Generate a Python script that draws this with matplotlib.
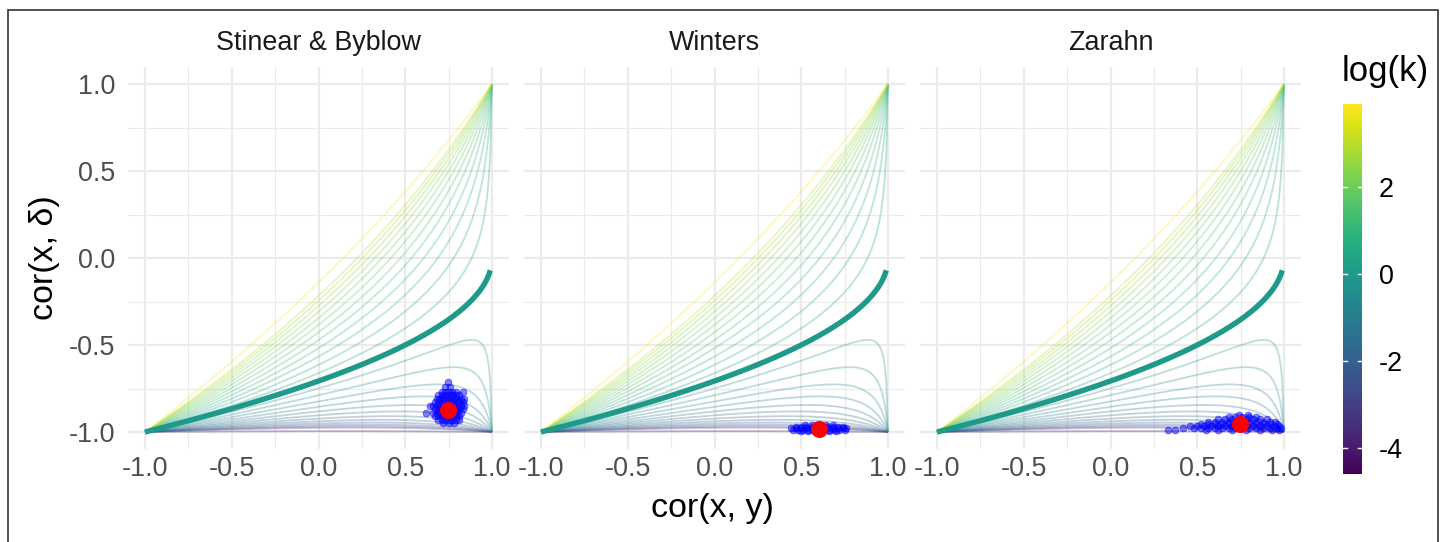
import numpy as np
import matplotlib
matplotlib.use("Agg")
import matplotlib.pyplot as plt
from matplotlib.patches import Rectangle
from matplotlib.colors import Normalize
from matplotlib.colorbar import ColorbarBase

plt.rcParams['font.family'] = ['Liberation Sans', 'DejaVu Sans']

# ---- data ----
panels = ["Stinear & Byblow", "Winters", "Zarahn"]

# log variance ratio of the reference curves (thick one is log(k) = 0)
log_k = [-4.6, -3.0, -2.75, -2.5, -2.25, -2.0, -1.75, -1.5, -1.25, -1.0, -0.75, -0.5,
         -0.25, 0.25, 0.5, 0.75, 1.0, 1.25, 1.5, 1.75, 2.0, 2.25, 2.5, 2.75, 3.0, 3.9]
log_k_thick = 0.0
k_min, k_max = -4.6, 3.9

rho = np.arange(-100, 101) / 100.0   # cor(x, y) grid

# bootstrap clouds, rows of (cor(x, delta), [cor(x, y) ...])
p1_rows = [(-0.71, [0.745]),
           (-0.74, [0.73, 0.76]),
           (-0.77, [0.71, 0.73, 0.75, 0.77, 0.79, 0.83]),
           (-0.79, [0.69, 0.71, 0.73, 0.75, 0.77, 0.79, 0.81]),
           (-0.81, [0.68, 0.70, 0.72, 0.74, 0.76, 0.78, 0.80, 0.82, 0.84]),
           (-0.83, [0.67, 0.69, 0.71, 0.73, 0.75, 0.77, 0.79, 0.81, 0.83]),
           (-0.85, [0.645, 0.66, 0.68, 0.70, 0.72, 0.74, 0.76, 0.78, 0.80, 0.82, 0.84]),
           (-0.87, [0.67, 0.69, 0.71, 0.73, 0.75, 0.77, 0.79, 0.81, 0.83]),
           (-0.89, [0.62, 0.66, 0.68, 0.70, 0.72, 0.74, 0.76, 0.78, 0.80, 0.82]),
           (-0.91, [0.67, 0.69, 0.71, 0.73, 0.75, 0.77, 0.79, 0.81]),
           (-0.93, [0.69, 0.71, 0.73, 0.75, 0.77, 0.79, 0.81]),
           (-0.95, [0.72, 0.75, 0.78])]

p2_rows = [(-0.962, [0.52, 0.56, 0.60, 0.64, 0.68]),
           (-0.970, [0.47, 0.50, 0.53, 0.56, 0.59, 0.62, 0.65, 0.68, 0.71, 0.74]),
           (-0.978, [0.44, 0.47, 0.50, 0.53, 0.56, 0.59, 0.62, 0.65, 0.68, 0.71, 0.74, 0.76]),
           (-0.986, [0.45, 0.48, 0.51, 0.54, 0.57, 0.60, 0.63, 0.66, 0.69, 0.72, 0.75]),
           (-0.993, [0.50, 0.54, 0.58, 0.62, 0.66, 0.70])]

p3_rows = [(-0.905, [0.74, 0.79]),
           (-0.915, [0.68, 0.72, 0.76, 0.80, 0.84]),
           (-0.927, [0.62, 0.66, 0.70, 0.74, 0.78, 0.82, 0.86, 0.90]),
           (-0.940, [0.56, 0.60, 0.64, 0.68, 0.72, 0.76, 0.80, 0.84, 0.88, 0.92, 0.95]),
           (-0.953, [0.52, 0.56, 0.60, 0.64, 0.68, 0.72, 0.76, 0.80, 0.84, 0.88, 0.92, 0.96]),
           (-0.966, [0.46, 0.50, 0.54, 0.58, 0.62, 0.66, 0.70, 0.74, 0.78, 0.82, 0.86, 0.90,
                     0.94, 0.97]),
           (-0.979, [0.42, 0.48, 0.52, 0.56, 0.60, 0.64, 0.68, 0.72, 0.76, 0.80, 0.84, 0.88,
                     0.92, 0.96, 0.98]),
           (-0.991, [0.33, 0.37, 0.55, 0.62, 0.70, 0.78, 0.86, 0.93, 0.97])]

clouds = [p1_rows, p2_rows, p3_rows]
center_x = [0.748, 0.604, 0.746]
center_y = [-0.871, -0.982, -0.956]

# ---- plot ----
W, H = 1448, 542
fig = plt.figure(figsize=(W / 100, H / 100), dpi=100)
fig.patches.append(Rectangle((8 / W, -0.05), 1430 / W, (H - 10) / H + 0.05,
                             transform=fig.transFigure, fill=False,
                             edgecolor="#333333", linewidth=1.2))

cmap = plt.get_cmap("viridis")
norm = Normalize(vmin=k_min, vmax=k_max)


def curve(L):
    s = np.sqrt(np.exp(L))
    with np.errstate(invalid="ignore", divide="ignore"):
        return (rho * s - 1) / np.sqrt(s * s + 1 - 2 * rho * s)


lefts = [127.6, 523.6, 919.6]
ax_w = 381.8
ax_top, ax_bot = 66.6, 449.4
for i, name in enumerate(panels):
    ax = fig.add_axes([lefts[i] / W, 1 - ax_bot / H, ax_w / W, (ax_bot - ax_top) / H])
    ax.set_xlim(-1.1, 1.1)
    ax.set_ylim(-1.1, 1.1)
    for sp in ax.spines.values():
        sp.set_visible(False)
    ax.set_xticks([-1, -0.5, 0, 0.5, 1])
    ax.set_yticks([-1, -0.5, 0, 0.5, 1])
    ax.set_xticks([-0.75, -0.25, 0.25, 0.75], minor=True)
    ax.set_yticks([-0.75, -0.25, 0.25, 0.75], minor=True)
    ax.set_xticklabels(["-1.0", "-0.5", "0.0", "0.5", "1.0"])
    ax.set_yticklabels(["-1.0", "-0.5", "0.0", "0.5", "1.0"])
    ax.tick_params(which="both", length=0, labelsize=19.4, labelcolor="#4D4D4D")
    ax.tick_params(axis="x", pad=5)
    ax.tick_params(axis="y", pad=9)
    if i > 0:
        ax.set_yticklabels([])
    ax.grid(which="major", color="#EBEBEB", linewidth=1.6)
    ax.grid(which="minor", color="#EBEBEB", linewidth=0.8)
    ax.set_axisbelow(True)

    for L in log_k:
        ax.plot(rho, curve(L), color=cmap(norm(L)), alpha=0.3, linewidth=1.3,
                solid_capstyle="butt")
    ax.plot(rho, curve(log_k_thick), color=cmap(norm(log_k_thick)), linewidth=3.9,
            solid_capstyle="butt")

    xs = [x for y, row in clouds[i] for x in row]
    ys = [y for y, row in clouds[i] for x in row]
    ax.scatter(xs, ys, s=24, color="#0000FF", alpha=0.5,
               edgecolors="#0000FF", linewidths=0.6, zorder=4)
    ax.scatter([center_x[i]], [center_y[i]], s=150, color="#FF0000", zorder=5,
               linewidths=0)

    fig.text((lefts[i] + ax_w / 2) / W, 1 - 43 / H, name, ha="center", va="center",
             fontsize=19.4, color="#1A1A1A")

fig.text(712 / W, 1 - 508 / H, "cor(x, y)", ha="center", va="center", fontsize=24.5,
         color="black")
fig.text(45 / W, 1 - 258 / H, "cor(x, δ)", ha="center", va="center", fontsize=24.5,
         color="black", rotation=90)

# colour bar
cax = fig.add_axes([1343 / W, 1 - 474 / H, 19 / W, 370 / H])
cb = ColorbarBase(cax, cmap=cmap, norm=norm, orientation="vertical")
cb.outline.set_visible(False)
cb.set_ticks([-4, -2, 0, 2])
cb.set_ticklabels(["-4", "-2", "0", "2"])
cax.tick_params(length=0, labelsize=19.4, labelcolor="black", pad=12)
for t in [-4, -2, 0, 2]:
    cax.plot([0, 0.2], [t, t], color="white", linewidth=1, transform=cax.get_yaxis_transform())
    cax.plot([0.8, 1.0], [t, t], color="white", linewidth=1, transform=cax.get_yaxis_transform())
fig.text(1342 / W, 1 - 72 / H, "log(k)", ha="left", va="center", fontsize=25,
         color="black")

fig.savefig("out.png", dpi=100)
